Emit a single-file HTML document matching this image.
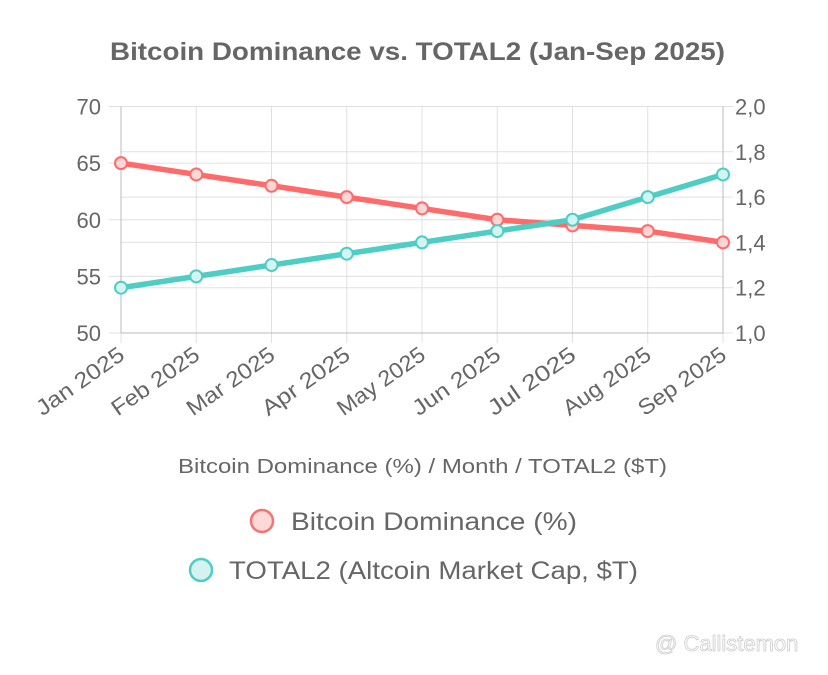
<!DOCTYPE html>
<html><head><meta charset="utf-8"><style>
body{margin:0;background:#fff;width:828px;height:670px;overflow:hidden}
svg{font-family:"Liberation Sans",Arial,sans-serif}
</style></head><body>
<svg id="c" width="828" height="670">
<text x="110" y="60" font-size="25" font-weight="bold" fill="#666" textLength="615" lengthAdjust="spacingAndGlyphs">Bitcoin Dominance vs. TOTAL2 (Jan-Sep 2025)</text>
<g id="grid"></g><g id="axes"></g><g id="series"></g>
<text x="178" y="473" font-size="20" fill="#666" textLength="489" lengthAdjust="spacingAndGlyphs">Bitcoin Dominance (%) / Month / TOTAL2 ($T)</text>
<g><circle cx="262" cy="521" r="11" fill="rgba(255,99,99,0.25)" stroke="#f27474" stroke-width="2.5"/><text x="291" y="530" font-size="25" fill="#666" textLength="286" lengthAdjust="spacingAndGlyphs">Bitcoin Dominance (%)</text></g>
<g><circle cx="201" cy="570" r="11" fill="rgba(78,205,196,0.25)" stroke="#4ecdc4" stroke-width="2.5"/><text x="229" y="579" font-size="25" fill="#666" textLength="409" lengthAdjust="spacingAndGlyphs">TOTAL2 (Altcoin Market Cap, $T)</text></g>
<text x="655" y="651" font-size="22" fill="#fff" stroke="#ccc" stroke-width="0.8">@ Callistemon</text>
</svg>
<script>
const months=["Jan 2025","Feb 2025","Mar 2025","Apr 2025","May 2025","Jun 2025","Jul 2025","Aug 2025","Sep 2025"];
const btc=[65,64,63,62,61,60,59.5,59,58];
const total2=[1.2,1.25,1.3,1.35,1.4,1.45,1.5,1.6,1.7];
const leftTicks=[50,55,60,65,70];
const rightTicks=[1.0,1.2,1.4,1.6,1.8,2.0];
const X0=121,X1=723,YT=106.5,YB=333;
const x=i=>X0+i*(X1-X0)/(months.length-1);
const yl=v=>YB-(v-50)/20*(YB-YT);
const yr=v=>YB-(v-1)/1*(YB-YT);
const NS="http://www.w3.org/2000/svg";
function mk(t,a,p){const e=document.createElementNS(NS,t);for(const k in a)e.setAttribute(k,a[k]);p.appendChild(e);return e;}
const g=document.getElementById('grid'),ax=document.getElementById('axes'),s=document.getElementById('series');
months.forEach((m,i)=>{
 const l=mk('line',{x1:x(i),x2:x(i),y1:YT,y2:YB+10,stroke:'#e0e0e0','stroke-width':1},g);
 
 
 const t=mk('text',{transform:`translate(${x(i)+5},${YB+25}) rotate(-35)`,'text-anchor':'end','font-size':22,fill:'#666',textLength:102,lengthAdjust:'spacingAndGlyphs'},ax);
 t.textContent=m;
 
 
});
leftTicks.forEach(v=>{
 const l=mk('line',{x1:X0-12,x2:X1,y1:yl(v),y2:yl(v),stroke:'#e0e0e0'},g);
 
 
 const t=mk('text',{x:101,y:yl(v)+8,'text-anchor':'end','font-size':22,fill:'#666'},ax);
 t.textContent=v;
 
 
});
rightTicks.forEach(v=>{
 const l=mk('line',{x1:X0,x2:X1+10,y1:yr(v),y2:yr(v),stroke:'#e0e0e0'},g);
 
 
 const t=mk('text',{x:735,y:yr(v)+8,'font-size':22,fill:'#666'},ax);
 t.textContent=v.toFixed(1).replace('.',',');
 
 
});
mk('line',{x1:X0,x2:X0,y1:YT,y2:YB,stroke:'#bbb'},ax);
mk('line',{x1:X1,x2:X1,y1:YT,y2:YB,stroke:'#bbb'},ax);
mk('line',{x1:X0,x2:X1,y1:YB,y2:YB,stroke:'#bbb'},ax);
function series(vals,yf,col,fill,name){
 const p=mk('polyline',{points:vals.map((v,i)=>x(i)+','+yf(v)).join(' '),fill:'none',stroke:col,'stroke-width':5.5,'stroke-linejoin':'round'},s);
 
 
 vals.forEach((v,i)=>{
  const c=mk('circle',{cx:x(i),cy:yf(v),r:6,fill:fill,stroke:col,'stroke-width':2},s);
  
  
 });
}
series(btc,yl,'#ff6b6b','#ffd6d6','btc');
series(total2,yr,'#4ecdc4','#d4f4f1','total2');
</script>
</body></html>
